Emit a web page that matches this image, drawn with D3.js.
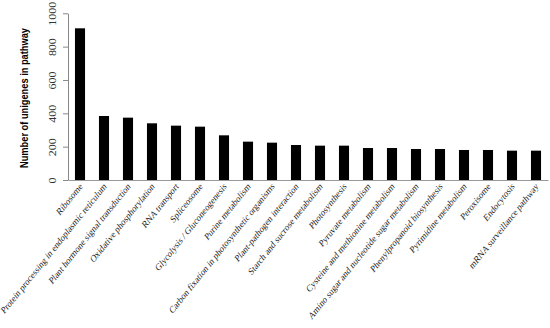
<!DOCTYPE html>
<html><head><meta charset="utf-8">
<script src="https://cdn.jsdelivr.net/npm/d3@7"></script>
<style>body{margin:0;background:#fff}svg{display:block}</style>
</head><body>
<script>
const categories = ["Ribosome","Protein processing in endoplasmic reticulum","Plant hormone signal transduction","Oxidative phosphorylation","RNA transport","Spliceosome","Glycolysis / Gluconeogenesis","Purine metabolism","Carbon fixation in photosynthetic organisms","Plant-pathogen interaction","Starch and sucrose metabolism","Photosynthesis","Pyruvate metabolism","Cysteine and methionine metabolism","Amino sugar and nucleotide sugar metabolism","Phenylpropanoid biosynthesis","Pyrimidine metabolism","Peroxisome","Endocytosis","mRNA surveillance pathway"];
const values = [910,384,374,340,326,320,268,230,224,210,206,206,192,192,186,186,180,180,176,176];
const yTicks = [0,200,400,600,800,1000];
const yTitle = "Number of unigenes in pathway";

const W=550,H=328;
const svg=d3.select("body").append("svg").attr("width",W).attr("height",H);
const x=d3.scaleBand().domain(categories).range([68,548]).paddingInner(0.58).paddingOuter(0.29);
const y=d3.scaleLinear().domain([0,1000]).range([180,13.3]);

svg.append("g").selectAll("rect").data(values).join("rect")
  .attr("x",(d,i)=>x(categories[i])).attr("width",x.bandwidth())
  .attr("y",d=>y(d)).attr("height",d=>y(0)-y(d)).attr("fill","#000");

const ya=svg.append("g").attr("transform","translate(68,0)").call(d3.axisLeft(y).tickValues(yTicks).tickFormat(d3.format("d")).tickSize(5).tickSizeOuter(0));
ya.select(".domain").attr("stroke","#888");
ya.selectAll(".tick line").attr("stroke","#888");
ya.selectAll(".tick text").attr("font-family","Liberation Serif").attr("font-size",10).attr("fill","#333")
  .attr("x",null).attr("dy",null).attr("text-anchor","middle")
  .attr("transform","translate(-14,0) scale(1,1.2) rotate(-90)").attr("dominant-baseline","middle");

const xa=svg.append("g").attr("transform","translate(0,180)").call(d3.axisBottom(x).tickSize(0).tickSizeOuter(0));
xa.select(".domain").attr("stroke","#999");
xa.selectAll(".tick text").attr("font-family","Liberation Serif").attr("font-size",8.15).attr("fill","#222")
  .attr("y",null).attr("dy",null).attr("text-anchor","end")
  .attr("transform","translate(3,7) scale(1,1.24) rotate(-45)");

svg.append("text").attr("transform","translate(25,98) rotate(-90)").attr("text-anchor","middle")
  .attr("dominant-baseline","middle").attr("font-family","Liberation Sans").attr("font-weight","bold")
  .attr("font-size",10.5).attr("textLength",140).attr("lengthAdjust","spacingAndGlyphs")
  .attr("fill","#000").text(yTitle);
</script>
</body></html>
